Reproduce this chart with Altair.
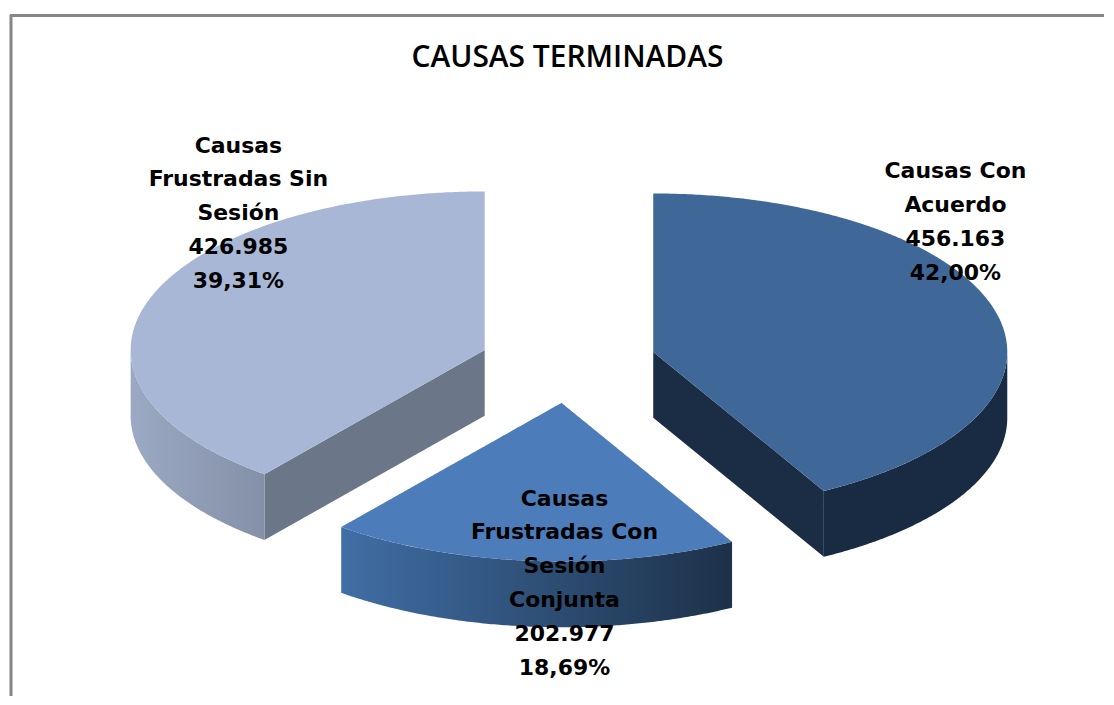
import numpy as np
import pandas as pd
import altair as alt

# ---- data ----
categories = [["Causas Con", "Acuerdo"],
              ["Causas", "Frustradas Con", "Sesión", "Conjunta"],
              ["Causas", "Frustradas Sin", "Sesión"]]
values = [456163, 202977, 426985]
value_labels = ["456.163", "202.977", "426.985"]
percent_labels = ["42,00%", "18,69%", "39,31%"]
title_text = "CAUSAS TERMINADAS"

# ---- pie geometry (image pixels) ----
W, H = 1098, 689
RX, RY, DEPTH = 355, 159, 66
centres = [(654, 352), (562, 403), (485, 350)]
label_anchor = [(957, 171), (565, 499), (238, 145)]
LINE_STEP = 34

total = sum(values)
starts = np.cumsum([0] + values[:-1]) / total * 2 * np.pi
ends = np.cumsum(values) / total * 2 * np.pi


def arc(c, a0, a1, n=160):
    a = np.linspace(a0, a1, n)
    return c[0] + RX * np.sin(a), c[1] - RY * np.cos(a)


def top_face(c, a0, a1):
    """Upper and lower edge of the (convex) slice at every x."""
    ax, ay = arc(c, a0, a1, 320)
    px = np.r_[c[0], ax, c[0]]
    py = np.r_[c[1], ay, c[1]]
    xs = np.unique(np.round(px, 2))
    up, lo = [], []
    for x in xs:
        ys = []
        for i in range(len(px) - 1):
            x0, x1, y0, y1 = px[i], px[i + 1], py[i], py[i + 1]
            if min(x0, x1) - 0.01 <= x <= max(x0, x1) + 0.01:
                if abs(x1 - x0) < 1e-6:
                    ys += [y0, y1]
                else:
                    t = np.clip((x - x0) / (x1 - x0), 0, 1)
                    ys.append(y0 + t * (y1 - y0))
        up.append(min(ys))
        lo.append(max(ys))
    return pd.DataFrame({"x": xs, "y": up, "y2": lo})


def wall(c, a0, a1):
    ax, ay = arc(c, a0, a1)
    return pd.DataFrame({"x": ax, "y": ay, "y2": ay + DEPTH}).sort_values("x")


def cut(c, a):
    ax, ay = arc(c, a, a, 1)
    return pd.DataFrame({"x": [c[0], ax[0]], "y": [c[1], ay[0]],
                         "y2": [c[1] + DEPTH, ay[0] + DEPTH]}).sort_values("x")


sx = alt.Scale(domain=[8, 8 + W], range=[0, W], nice=False, zero=False)
sy = alt.Scale(domain=[8, 8 + H], range=[0, H], nice=False, zero=False)


def grad(c0, c1):
    return alt.Gradient(gradient="linear", x1=0, x2=1, y1=0, y2=0,
                        stops=[alt.GradientStop(color=c0, offset=0),
                               alt.GradientStop(color=c1, offset=1)])


def area(df, fill):
    return alt.Chart(df).mark_area(color=fill, interpolate="linear", line=False).encode(
        x=alt.X("x:Q", scale=sx, axis=None),
        y=alt.Y("y:Q", scale=sy, axis=None),
        y2="y2:Q",
    )


layers = [
    # right slice
    area(cut(centres[0], ends[0]), "#1a2d45"),
    area(wall(centres[0], np.pi / 2, ends[0]), "#182b42"),
    area(top_face(centres[0], starts[0], ends[0]), "#3f6899"),
    # left slice
    area(cut(centres[2], starts[2]), "#6b7688"),
    area(wall(centres[2], starts[2], 1.5 * np.pi), grad("#9ca9c2", "#8390a8")),
    area(top_face(centres[2], starts[2], ends[2]), "#a8b7d6"),
    # bottom slice
    area(wall(centres[1], starts[1], ends[1]), grad("#406ea5", "#1d3149")),
    area(top_face(centres[1], starts[1], ends[1]), "#4c7dba"),
]

# frame
layers.append(alt.Chart(pd.DataFrame({"a": [0]})).mark_rule(color="#868686", strokeWidth=3).encode(
    x=alt.value(2), y=alt.value(6), y2=alt.value(H)))
layers.append(alt.Chart(pd.DataFrame({"a": [0]})).mark_rule(color="#868686", strokeWidth=3).encode(
    x=alt.value(1), x2=alt.value(W), y=alt.value(6.5)))

# labels
rows = []
for cat, val, pct, (ax, ay) in zip(categories, value_labels, percent_labels, label_anchor):
    for i, line in enumerate(cat + [val, pct]):
        rows.append({"x": ax, "y": ay + i * LINE_STEP, "t": line})
layers.append(alt.Chart(pd.DataFrame(rows)).mark_text(
    font="DejaVu Sans", fontSize=22, fontWeight="bold", color="#000000",
    align="center", baseline="middle").encode(
    x=alt.X("x:Q", scale=sx, axis=None),
    y=alt.Y("y:Q", scale=sy, axis=None),
    text="t:N"))

layers.append(alt.Chart(pd.DataFrame({"x": [568], "y": [57], "t": [title_text]})).mark_text(
    font="Open Sans", fontSize=30, fontWeight=600, color="#000000",
    align="center", baseline="middle").encode(
    x=alt.X("x:Q", scale=sx, axis=None),
    y=alt.Y("y:Q", scale=sy, axis=None),
    text="t:N"))

chart = alt.layer(*layers).properties(
    width=W, height=H, padding=0, background="#ffffff"
).configure_view(stroke=None)

chart.save("out.html", embed_options={"renderer": "svg", "actions": False})
